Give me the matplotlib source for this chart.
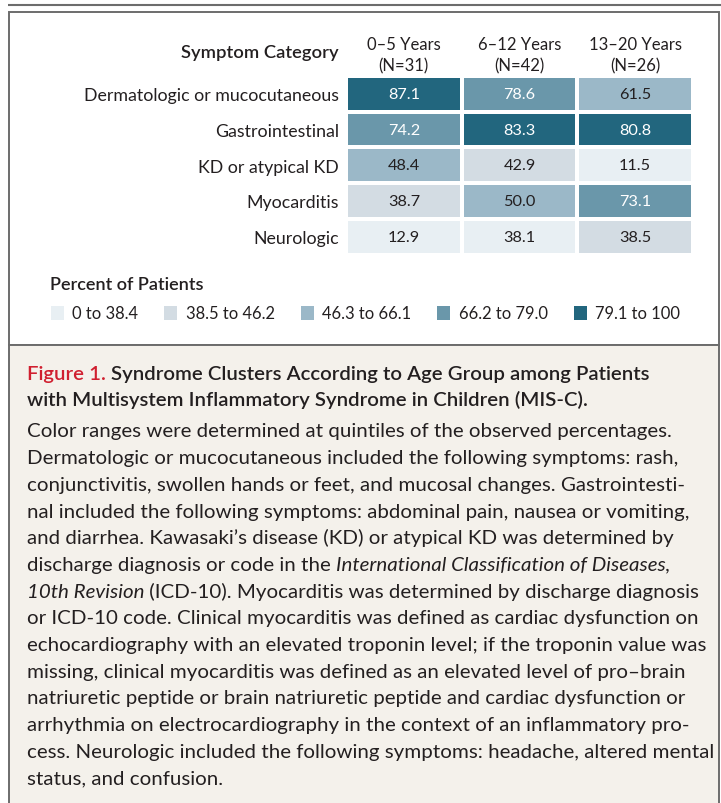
import matplotlib
matplotlib.use("Agg")
import matplotlib.pyplot as plt
from matplotlib.colors import ListedColormap, BoundaryNorm
from matplotlib.patches import Rectangle
import numpy as np

plt.rcParams['font.family'] = ['Lato', 'DejaVu Sans']

# data
categories = ["Dermatologic or mucocutaneous", "Gastrointestinal", "KD or atypical KD",
              "Myocarditis", "Neurologic"]
age_groups = ["0\u20135 Years\n(N=31)", "6\u201312 Years\n(N=42)", "13\u201320 Years\n(N=26)"]
percent = np.array([[87.1, 78.6, 61.5],
                    [74.2, 83.3, 80.8],
                    [48.4, 42.9, 11.5],
                    [38.7, 50.0, 73.1],
                    [12.9, 38.1, 38.5]])
bin_edges = [0, 38.45, 46.25, 66.15, 79.05, 100]
bin_labels = ["0 to 38.4", "38.5 to 46.2", "46.3 to 66.1", "66.2 to 79.0", "79.1 to 100"]
bin_colors = ["#e8eff3", "#d3dce3", "#9bb8c8", "#6a97aa", "#22667e"]

DARK = "#231f20"
RED = "#d01f2f"

caption_title = [
    [("Figure 1. ", RED), ("Syndrome Clusters According to Age Group among Patients", DARK)],
    [("with Multisystem Inflammatory Syndrome in Children (MIS-C).", DARK)],
]
caption_body = [
    [("Color ranges were determined at quintiles of the observed percentages.", "normal")],
    [("Dermatologic or mucocutaneous included the following symptoms: rash,", "normal")],
    [("conjunctivitis, swollen hands or feet, and mucosal changes. Gastrointesti-", "normal")],
    [("nal included the following symptoms: abdominal pain, nausea or vomiting,", "normal")],
    [("and diarrhea. Kawasaki\u2019s disease (KD) or atypical KD was determined by", "normal")],
    [("discharge diagnosis or code in the ", "normal"),
     ("International Classification of Diseases,", "italic")],
    [("10th Revision", "italic"),
     (" (ICD-10). Myocarditis was determined by discharge diagnosis", "normal")],
    [("or ICD-10 code. Clinical myocarditis was defined as cardiac dysfunction on", "normal")],
    [("echocardiography with an elevated troponin level; if the troponin value was", "normal")],
    [("missing, clinical myocarditis was defined as an elevated level of pro\u2013brain", "normal")],
    [("natriuretic peptide or brain natriuretic peptide and cardiac dysfunction or", "normal")],
    [("arrhythmia on electrocardiography in the context of an inflammatory pro-", "normal")],
    [("cess. Neurologic included the following symptoms: headache, altered mental", "normal")],
    [("status, and confusion.", "normal")],
]

W, H = 721, 804
fig = plt.figure(figsize=(W / 100, H / 100), dpi=100)
ov = fig.add_axes([0, 0, 1, 1])
ov.set_xlim(0, W)
ov.set_ylim(H, 0)
ov.axis('off')
fig.canvas.draw()
renderer = fig.canvas.get_renderer()


def text_width(s, size, **kw):
    # "|" around the text so leading/trailing spaces are counted
    t = ov.text(0, 0, "|" + s + "|", fontsize=size, **kw)
    bar = ov.text(0, 0, "||", fontsize=size, **kw)
    w = t.get_window_extent(renderer).width - bar.get_window_extent(renderer).width
    t.remove()
    bar.remove()
    return w


def fit(s, width, **kw):
    return 10 * width / text_width(s, 10, **kw)


body_size = fit(caption_body[0][0][0], 646)
title_size = fit("Figure 1. Syndrome Clusters According to Age Group among Patients", 622,
                 weight='semibold')
label_size = fit(categories[0], 255)
head_size = fit("Symptom Category", 157, weight='semibold')
col_size = fit("13\u201320 Years", 93)
leg_title_size = fit("Percent of Patients", 154, weight='semibold')
leg_size = fit(bin_labels[-1], 85)
cell_size = fit("87.1", 32)

# frames
ov.plot([8, W], [6, 6], color="#6c6c6c", lw=1.5, solid_capstyle='butt')
ov.add_patch(Rectangle((9, 12.5), 709.5, 333.5, facecolor="white", edgecolor="#6c6c6c", lw=1.4))
ov.add_patch(Rectangle((9, 346), 709.5, 470, facecolor="#f4f1eb", edgecolor="#6c6c6c", lw=1.4))

# heatmap
ax = fig.add_axes([346 / W, 1 - 255.5 / H, 347 / W, 178.5 / H])
cmap = ListedColormap(bin_colors)
norm = BoundaryNorm(bin_edges, cmap.N)
ax.pcolormesh(percent, cmap=cmap, norm=norm, edgecolors='white', linewidth=1.5)
ax.set_xlim(0, percent.shape[1])
ax.set_ylim(percent.shape[0], 0)
for s in ax.spines.values():
    s.set_visible(False)
ax.xaxis.tick_top()
ax.set_xticks(np.arange(percent.shape[1]) + 0.5)
ax.set_xticklabels(age_groups, fontsize=col_size, color=DARK, linespacing=1.45)
ax.set_yticks(np.arange(percent.shape[0]) + 0.5)
ax.set_yticklabels(categories, fontsize=label_size, color=DARK)
ax.tick_params(axis='x', length=0, pad=1.5)
ax.tick_params(axis='y', length=0, pad=5)
for i in range(percent.shape[0]):
    for j in range(percent.shape[1]):
        v = percent[i, j]
        ax.text(j + 0.5, i + 0.5, f"{v:.1f}", ha='center', va='center', fontsize=cell_size,
                color='white' if v >= bin_edges[3] else DARK)

ov.text(339, 53, "Symptom Category", ha='right', va='center', fontsize=head_size,
        weight='semibold', color=DARK)

# legend
ov.text(50.5, 285, "Percent of Patients", ha='left', va='center', fontsize=leg_title_size,
        weight='semibold', color=DARK)
x = 50.5
for lab, col in zip(bin_labels, bin_colors):
    ov.add_patch(Rectangle((x, 307), 13, 14, facecolor=col, edgecolor='none'))
    ov.text(x + 21.5, 314, lab, ha='left', va='center', fontsize=leg_size, color=DARK)
    x = x + 21.5 + text_width(lab, leg_size) + 26

# caption
y = 380
for line in caption_title:
    x = 26.7
    for seg, col in line:
        ov.text(x, y, seg, ha='left', va='baseline', fontsize=title_size, weight='semibold',
                color=col)
        x += text_width(seg, title_size, weight='semibold')
    y += 26.5

y = 437.5
for line in caption_body:
    x = 26.7
    for seg, style in line:
        ov.text(x, y, seg, ha='left', va='baseline', fontsize=body_size, style=style,
                color=DARK)
        x += text_width(seg, body_size, style=style)
    y += 26.67

fig.savefig("out.png", dpi=100)
